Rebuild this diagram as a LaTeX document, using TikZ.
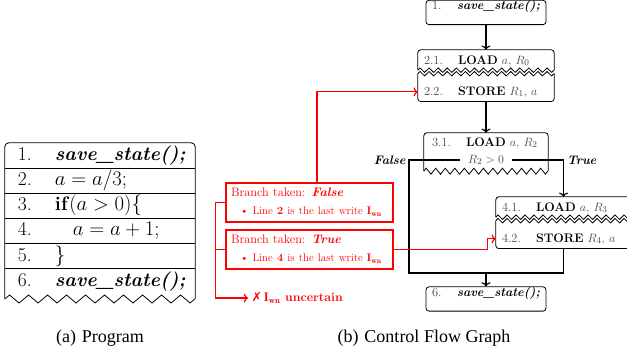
\documentclass[tikz,border=0pt]{standalone}
\usepackage{amsmath}
\usepackage{amssymb}
\usepackage{fontspec}
\newfontfamily\dejavu{DejaVu Sans}
\newfontfamily\capfont{Liberation Serif}
\usepackage{tikz}
\usetikzlibrary{arrows.meta, positioning, calc, decorations.pathmorphing}

\newcommand{\tline}[2]{\hspace*{13pt}\makebox[37pt][l]{#1}#2}
\newcommand{\stmt}[4]{\makebox[#1][l]{\textcolor{black!72}{#2}}#3 \textcolor{black!72}{#4}}
\newcommand{\sst}{\textbf{\textit{save\_state();}}}

\begin{document}
\begin{tikzpicture}[x=1pt, y=-1pt,
    tblrow/.style={minimum width=190pt, minimum height=24.8pt, inner sep=0pt, text width=190pt, align=left, font=\fontsize{19.5}{23}\selectfont},
    cfgpart/.style={inner xsep=6pt, inner ysep=0pt, text width=#1, align=left, font=\fontsize{12.4}{15}\selectfont},
    condnode/.style={inner xsep=8pt, inner ysep=2pt, font=\fontsize{12.4}{15}\selectfont},
    box/.style={draw, line width=0.8pt, rounded corners=3pt},
    rowline/.style={line width=0.8pt},
    zz/.style={line width=0.8pt, decorate, decoration={zigzag, amplitude=2.2pt, segment length=#1}},
    flow/.style={line width=1.2pt, -{To}},
    plain/.style={line width=1.2pt},
    rbox/.style={draw=red, line width=1.2pt, text=red, minimum width=167pt, minimum height=39pt, inner xsep=5pt, text width=157pt, align=left, font=\fontsize{12.4}{18}\selectfont},
    rflow/.style={red, line width=1.2pt, -{To}},
    brlabel/.style={font=\fontsize{12.4}{15}\selectfont\bfseries\itshape},
    caption/.style={font={\capfont\fontsize{18}{21}\selectfont}},
  ]
  \useasboundingbox (0,0) rectangle (627,347);
  \clip (0,0) rectangle (627,347);

  % (a) program
  \node[tblrow] (p1) at (100,155.4) {\tline{1.}{\sst}};
  \node[tblrow, below=0pt of p1] (p2) {\tline{2.}{$a = a/3;$}};
  \node[tblrow, below=0pt of p2] (p3) {\tline{3.}{\textbf{if}$(a > 0)\{$}};
  \node[tblrow, below=0pt of p3] (p4) {\tline{4.}{\hspace*{18pt}$a = a + 1;$}};
  \node[tblrow, below=0pt of p4] (p5) {\tline{5.}{$\}$}};
  \node[tblrow, below=0pt of p5] (p6) {\tline{6.}{\sst}};
  \foreach \r in {1,...,5}
    \draw[rowline] (p\r.south west) -- (p\r.south east);
  \draw[box, rounded corners=4pt] ($(p6.south west)+(0,5)$) -- (p1.north west) -- (p1.north east) -- ($(p6.south east)+(0,5)$);
  \draw[zz=19pt, decoration={amplitude=4pt}] ($(p6.south west)+(0,5)$) -- ($(p6.south east)+(0,5)$);

  % (b) control flow graph
  \node[cfgpart=108pt, box, minimum height=17pt] (b1) at (486,12.5) {\stmt{25pt}{1.}{\sst}{}};
  \node[cfgpart=124pt, minimum height=22pt] (s21) at (486,61) {\stmt{34pt}{2.1.}{\textbf{LOAD}}{$a$, $R_0$}};
  \node[cfgpart=124pt, minimum height=19pt, below=10pt of s21] (s22) {\stmt{34pt}{2.2.}{\textbf{STORE}}{$R_1$, $a$}};
  \node[cfgpart=108pt, inner xsep=8pt, minimum height=20pt] (s31) at (486,143) {\stmt{34pt}{3.1.}{\textbf{LOAD}}{$a$, $R_2$}};
  \node[condnode] (cond) at (486,160) {\textcolor{black!72}{$R_2 > 0$}};
  \node[cfgpart=123pt, minimum height=22pt] (s41) at (563.5,208) {\stmt{34pt}{4.1.}{\textbf{LOAD}}{$a$, $R_3$}};
  \node[cfgpart=123pt, minimum height=19pt, below=10pt of s41] (s42) {\stmt{34pt}{4.2.}{\textbf{STORE}}{$R_4$, $a$}};
  \node[cfgpart=108pt, box, minimum height=16pt] (b6) at (486,299) {\stmt{25pt}{6.}{\sst}{}};

  \draw[box] ($(s21.south west)+(0,-2)$) -- (s21.north west) -- (s21.north east) -- ($(s21.south east)+(0,-2)$);
  \draw[zz=9.0667pt] ($(s21.south west)+(0,-2)$) -- ($(s21.south east)+(0,-2)$);
  \draw[zz=9.0667pt] ($(s21.south west)+(0,1.5)$) -- ($(s21.south east)+(0,1.5)$);
  \draw[box] ($(s21.south west)+(0,1.5)$) -- (s22.south west) -- (s22.south east) -- ($(s21.south east)+(0,1.5)$);

  \draw[box] ($(s31.south west)+(0,18)$) -- (s31.north west) -- (s31.north east) -- ($(s31.south east)+(0,18)$);
  \draw[zz=9.538pt, decoration={amplitude=3pt}] ($(s31.south west)+(0,18)$) -- ($(s31.south east)+(0,18)$);

  \draw[box] ($(s41.south west)+(0,-2)$) -- (s41.north west) -- (s41.north east) -- ($(s41.south east)+(0,-2)$);
  \draw[zz=9pt] ($(s41.south west)+(0,-2)$) -- ($(s41.south east)+(0,-2)$);
  \draw[zz=9pt] ($(s41.south west)+(0,1.5)$) -- ($(s41.south east)+(0,1.5)$);
  \draw[box] ($(s41.south west)+(0,1.5)$) -- (s42.south west) -- (s42.south east) -- ($(s41.south east)+(0,1.5)$);

  \coordinate (fl) at (409,160);
  \coordinate (merge) at (486,273);
  \draw[flow] (b1) -- (s21);
  \draw[flow] (s22) -- (s31);
  \draw[plain] (cond) -- (fl) |- (merge);
  \draw[flow] (cond) -| (s41);
  \draw[plain] (s42) |- (merge);
  \draw[flow] (merge) -- (b6);
  \node[brlabel, anchor=east] (lfalse) at (fl) {False};
  \node[brlabel, anchor=west] (ltrue) at (cond -| s41) {True};

  % branch notes
  \node[rbox] (fbox) at (309.5,202.5) {Branch taken: \textbf{\textit{False}}\\
    {\fontsize{11}{13}\selectfont\hspace*{9pt}\textbullet\ Line \textbf{2} is the last write $\mathbf{I_{wn}}$}};
  \node[rbox] (tbox) at (309.5,249.5) {Branch taken: \textbf{\textit{True}}\\
    {\fontsize{11}{13}\selectfont\hspace*{9pt}\textbullet\ Line \textbf{4} is the last write $\mathbf{I_{wn}}$}};
  \node[red, font=\fontsize{12.4}{15}\selectfont\bfseries, anchor=west] (unc) at (248,298) {{\dejavu ✗}\,$\mathbf{I_{wn}}$ uncertain};
  \draw[rflow] ([xshift=7.5pt]fbox.north) |- (s22.west);
  \draw[rflow] (tbox.east) -- ++(94,0) |- (s42.west);
  \draw[rflow] (fbox.west) -- ++(-10,0) |- (unc.west);
  \draw[red, line width=1.2pt] (tbox.west) -- ++(-10,0);

  % captions
  \node[caption] (capa) at (100,338) {(a)\hspace{6pt}Program};
  \node[caption] (capb) at (424,338) {(b)\hspace{6pt}Control Flow Graph};
\end{tikzpicture}
\end{document}
